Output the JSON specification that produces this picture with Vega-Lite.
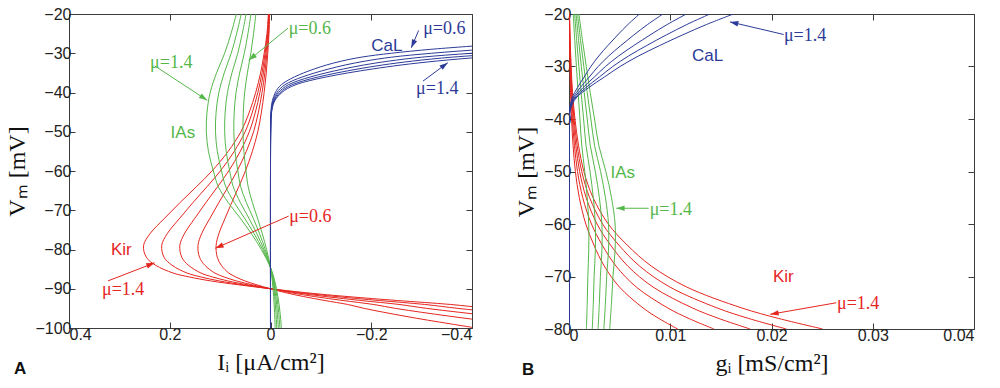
{
"$schema": "https://vega.github.io/schema/vega-lite/v6.json",
"background": "white",
"padding": {"left": 5, "top": 5, "right": 5, "bottom": 0},
"config": {
  "view": {"stroke": "#3c3c3c", "strokeWidth": 1},
  "axis": {"grid": false, "domain": false, "tickColor": "#3c3c3c", "tickSize": -6, "labelFont": "Liberation Sans", "labelFontSize": 16, "labelColor": "#222222", "titleFont": "Liberation Serif", "titleFontSize": 24, "titleFontWeight": "normal", "titleColor": "#111111", "labelPadding": 4},
  "axisX": {"titlePadding": 8},
  "axisY": {"titlePadding": 5},
  "concat": {"spacing": 41}
},
"datasets": {
"curves": [
{"p":"A","c":"Kir","m":0.6,"v":-20,"x":0.0018},{"p":"A","c":"Kir","m":0.6,"v":-25,"x":0.003},{"p":"A","c":"Kir","m":0.6,"v":-30,"x":0.0054},{"p":"A","c":"Kir","m":0.6,"v":-35,"x":0.0084},{"p":"A","c":"Kir","m":0.6,"v":-40,"x":0.0126},{"p":"A","c":"Kir","m":0.6,"v":-45,"x":0.018},{"p":"A","c":"Kir","m":0.6,"v":-50,"x":0.0252},{"p":"A","c":"Kir","m":0.6,"v":-55,"x":0.036},{"p":"A","c":"Kir","m":0.6,"v":-60,"x":0.0498},{"p":"A","c":"Kir","m":0.6,"v":-64,"x":0.063},{"p":"A","c":"Kir","m":0.6,"v":-68,"x":0.0768},{"p":"A","c":"Kir","m":0.6,"v":-72,"x":0.09},{"p":"A","c":"Kir","m":0.6,"v":-76,"x":0.1026},{"p":"A","c":"Kir","m":0.6,"v":-79,"x":0.108},{"p":"A","c":"Kir","m":0.6,"v":-82,"x":0.1056},{"p":"A","c":"Kir","m":0.6,"v":-84,"x":0.0978},{"p":"A","c":"Kir","m":0.6,"v":-86,"x":0.0828},{"p":"A","c":"Kir","m":0.6,"v":-87,"x":0.069},{"p":"A","c":"Kir","m":0.6,"v":-88,"x":0.051},{"p":"A","c":"Kir","m":0.6,"v":-89,"x":0.027},{"p":"A","c":"Kir","m":0.6,"v":-90,"x":0},{"p":"A","c":"Kir","m":0.6,"v":-91,"x":-0.03},{"p":"A","c":"Kir","m":0.6,"v":-92,"x":-0.066},{"p":"A","c":"Kir","m":0.6,"v":-93,"x":-0.108},{"p":"A","c":"Kir","m":0.6,"v":-94,"x":-0.153},{"p":"A","c":"Kir","m":0.6,"v":-95,"x":-0.186},{"p":"A","c":"Kir","m":0.6,"v":-96,"x":-0.225},{"p":"A","c":"Kir","m":0.6,"v":-97,"x":-0.267},{"p":"A","c":"Kir","m":0.6,"v":-98,"x":-0.312},{"p":"A","c":"Kir","m":0.6,"v":-99,"x":-0.36},{"p":"A","c":"Kir","m":0.6,"v":-100,"x":-0.408},
{"p":"A","c":"Kir","m":0.8,"v":-20,"x":0.0024},{"p":"A","c":"Kir","m":0.8,"v":-25,"x":0.004},{"p":"A","c":"Kir","m":0.8,"v":-30,"x":0.0072},{"p":"A","c":"Kir","m":0.8,"v":-35,"x":0.0112},{"p":"A","c":"Kir","m":0.8,"v":-40,"x":0.0168},{"p":"A","c":"Kir","m":0.8,"v":-45,"x":0.024},{"p":"A","c":"Kir","m":0.8,"v":-50,"x":0.0336},{"p":"A","c":"Kir","m":0.8,"v":-55,"x":0.048},{"p":"A","c":"Kir","m":0.8,"v":-60,"x":0.0664},{"p":"A","c":"Kir","m":0.8,"v":-64,"x":0.084},{"p":"A","c":"Kir","m":0.8,"v":-68,"x":0.1024},{"p":"A","c":"Kir","m":0.8,"v":-72,"x":0.12},{"p":"A","c":"Kir","m":0.8,"v":-76,"x":0.1368},{"p":"A","c":"Kir","m":0.8,"v":-79,"x":0.144},{"p":"A","c":"Kir","m":0.8,"v":-82,"x":0.1408},{"p":"A","c":"Kir","m":0.8,"v":-84,"x":0.1304},{"p":"A","c":"Kir","m":0.8,"v":-86,"x":0.1104},{"p":"A","c":"Kir","m":0.8,"v":-87,"x":0.092},{"p":"A","c":"Kir","m":0.8,"v":-88,"x":0.068},{"p":"A","c":"Kir","m":0.8,"v":-89,"x":0.036},{"p":"A","c":"Kir","m":0.8,"v":-90,"x":0},{"p":"A","c":"Kir","m":0.8,"v":-91,"x":-0.04},{"p":"A","c":"Kir","m":0.8,"v":-92,"x":-0.088},{"p":"A","c":"Kir","m":0.8,"v":-93,"x":-0.144},{"p":"A","c":"Kir","m":0.8,"v":-94,"x":-0.204},{"p":"A","c":"Kir","m":0.8,"v":-95,"x":-0.248},{"p":"A","c":"Kir","m":0.8,"v":-96,"x":-0.3},{"p":"A","c":"Kir","m":0.8,"v":-97,"x":-0.356},{"p":"A","c":"Kir","m":0.8,"v":-98,"x":-0.416},{"p":"A","c":"Kir","m":0.8,"v":-99,"x":-0.48},
{"p":"A","c":"Kir","m":1.0,"v":-20,"x":0.003},{"p":"A","c":"Kir","m":1.0,"v":-25,"x":0.005},{"p":"A","c":"Kir","m":1.0,"v":-30,"x":0.009},{"p":"A","c":"Kir","m":1.0,"v":-35,"x":0.014},{"p":"A","c":"Kir","m":1.0,"v":-40,"x":0.021},{"p":"A","c":"Kir","m":1.0,"v":-45,"x":0.03},{"p":"A","c":"Kir","m":1.0,"v":-50,"x":0.042},{"p":"A","c":"Kir","m":1.0,"v":-55,"x":0.06},{"p":"A","c":"Kir","m":1.0,"v":-60,"x":0.083},{"p":"A","c":"Kir","m":1.0,"v":-64,"x":0.105},{"p":"A","c":"Kir","m":1.0,"v":-68,"x":0.128},{"p":"A","c":"Kir","m":1.0,"v":-72,"x":0.15},{"p":"A","c":"Kir","m":1.0,"v":-76,"x":0.171},{"p":"A","c":"Kir","m":1.0,"v":-79,"x":0.18},{"p":"A","c":"Kir","m":1.0,"v":-82,"x":0.176},{"p":"A","c":"Kir","m":1.0,"v":-84,"x":0.163},{"p":"A","c":"Kir","m":1.0,"v":-86,"x":0.138},{"p":"A","c":"Kir","m":1.0,"v":-87,"x":0.115},{"p":"A","c":"Kir","m":1.0,"v":-88,"x":0.085},{"p":"A","c":"Kir","m":1.0,"v":-89,"x":0.045},{"p":"A","c":"Kir","m":1.0,"v":-90,"x":0},{"p":"A","c":"Kir","m":1.0,"v":-91,"x":-0.05},{"p":"A","c":"Kir","m":1.0,"v":-92,"x":-0.11},{"p":"A","c":"Kir","m":1.0,"v":-93,"x":-0.18},{"p":"A","c":"Kir","m":1.0,"v":-94,"x":-0.255},{"p":"A","c":"Kir","m":1.0,"v":-95,"x":-0.31},{"p":"A","c":"Kir","m":1.0,"v":-96,"x":-0.375},{"p":"A","c":"Kir","m":1.0,"v":-97,"x":-0.445},{"p":"A","c":"Kir","m":1.0,"v":-98,"x":-0.52},
{"p":"A","c":"Kir","m":1.2,"v":-20,"x":0.0036},{"p":"A","c":"Kir","m":1.2,"v":-25,"x":0.006},{"p":"A","c":"Kir","m":1.2,"v":-30,"x":0.0108},{"p":"A","c":"Kir","m":1.2,"v":-35,"x":0.0168},{"p":"A","c":"Kir","m":1.2,"v":-40,"x":0.0252},{"p":"A","c":"Kir","m":1.2,"v":-45,"x":0.036},{"p":"A","c":"Kir","m":1.2,"v":-50,"x":0.0504},{"p":"A","c":"Kir","m":1.2,"v":-55,"x":0.072},{"p":"A","c":"Kir","m":1.2,"v":-60,"x":0.0996},{"p":"A","c":"Kir","m":1.2,"v":-64,"x":0.126},{"p":"A","c":"Kir","m":1.2,"v":-68,"x":0.1536},{"p":"A","c":"Kir","m":1.2,"v":-72,"x":0.18},{"p":"A","c":"Kir","m":1.2,"v":-76,"x":0.2052},{"p":"A","c":"Kir","m":1.2,"v":-79,"x":0.216},{"p":"A","c":"Kir","m":1.2,"v":-82,"x":0.2112},{"p":"A","c":"Kir","m":1.2,"v":-84,"x":0.1956},{"p":"A","c":"Kir","m":1.2,"v":-86,"x":0.1656},{"p":"A","c":"Kir","m":1.2,"v":-87,"x":0.138},{"p":"A","c":"Kir","m":1.2,"v":-88,"x":0.102},{"p":"A","c":"Kir","m":1.2,"v":-89,"x":0.054},{"p":"A","c":"Kir","m":1.2,"v":-90,"x":0},{"p":"A","c":"Kir","m":1.2,"v":-91,"x":-0.06},{"p":"A","c":"Kir","m":1.2,"v":-92,"x":-0.132},{"p":"A","c":"Kir","m":1.2,"v":-93,"x":-0.216},{"p":"A","c":"Kir","m":1.2,"v":-94,"x":-0.306},{"p":"A","c":"Kir","m":1.2,"v":-95,"x":-0.372},{"p":"A","c":"Kir","m":1.2,"v":-96,"x":-0.45},{"p":"A","c":"Kir","m":1.2,"v":-97,"x":-0.534},
{"p":"A","c":"Kir","m":1.4,"v":-20,"x":0.0042},{"p":"A","c":"Kir","m":1.4,"v":-25,"x":0.007},{"p":"A","c":"Kir","m":1.4,"v":-30,"x":0.0126},{"p":"A","c":"Kir","m":1.4,"v":-35,"x":0.0196},{"p":"A","c":"Kir","m":1.4,"v":-40,"x":0.0294},{"p":"A","c":"Kir","m":1.4,"v":-45,"x":0.042},{"p":"A","c":"Kir","m":1.4,"v":-50,"x":0.0588},{"p":"A","c":"Kir","m":1.4,"v":-55,"x":0.084},{"p":"A","c":"Kir","m":1.4,"v":-60,"x":0.1162},{"p":"A","c":"Kir","m":1.4,"v":-64,"x":0.147},{"p":"A","c":"Kir","m":1.4,"v":-68,"x":0.1792},{"p":"A","c":"Kir","m":1.4,"v":-72,"x":0.21},{"p":"A","c":"Kir","m":1.4,"v":-76,"x":0.2394},{"p":"A","c":"Kir","m":1.4,"v":-79,"x":0.252},{"p":"A","c":"Kir","m":1.4,"v":-82,"x":0.2464},{"p":"A","c":"Kir","m":1.4,"v":-84,"x":0.2282},{"p":"A","c":"Kir","m":1.4,"v":-86,"x":0.1932},{"p":"A","c":"Kir","m":1.4,"v":-87,"x":0.161},{"p":"A","c":"Kir","m":1.4,"v":-88,"x":0.119},{"p":"A","c":"Kir","m":1.4,"v":-89,"x":0.063},{"p":"A","c":"Kir","m":1.4,"v":-90,"x":0},{"p":"A","c":"Kir","m":1.4,"v":-91,"x":-0.07},{"p":"A","c":"Kir","m":1.4,"v":-92,"x":-0.154},{"p":"A","c":"Kir","m":1.4,"v":-93,"x":-0.252},{"p":"A","c":"Kir","m":1.4,"v":-94,"x":-0.357},{"p":"A","c":"Kir","m":1.4,"v":-95,"x":-0.434},{"p":"A","c":"Kir","m":1.4,"v":-96,"x":-0.525},
{"p":"A","c":"IAs","m":0.6,"v":-20,"x":0.029},{"p":"A","c":"IAs","m":0.6,"v":-25,"x":0.0336},{"p":"A","c":"IAs","m":0.6,"v":-30,"x":0.039},{"p":"A","c":"IAs","m":0.6,"v":-35,"x":0.0459},{"p":"A","c":"IAs","m":0.6,"v":-40,"x":0.0513},{"p":"A","c":"IAs","m":0.6,"v":-45,"x":0.054},{"p":"A","c":"IAs","m":0.6,"v":-50,"x":0.0546},{"p":"A","c":"IAs","m":0.6,"v":-55,"x":0.0528},{"p":"A","c":"IAs","m":0.6,"v":-60,"x":0.0486},{"p":"A","c":"IAs","m":0.6,"v":-64,"x":0.0444},{"p":"A","c":"IAs","m":0.6,"v":-68,"x":0.036},{"p":"A","c":"IAs","m":0.6,"v":-72,"x":0.0258},{"p":"A","c":"IAs","m":0.6,"v":-76,"x":0.0162},{"p":"A","c":"IAs","m":0.6,"v":-80,"x":0.0078},{"p":"A","c":"IAs","m":0.6,"v":-84.6,"x":0},{"p":"A","c":"IAs","m":0.6,"v":-88,"x":-0.0036},{"p":"A","c":"IAs","m":0.6,"v":-92,"x":-0.0063},{"p":"A","c":"IAs","m":0.6,"v":-96,"x":-0.0081},{"p":"A","c":"IAs","m":0.6,"v":-100,"x":-0.0093},
{"p":"A","c":"IAs","m":0.8,"v":-20,"x":0.0387},{"p":"A","c":"IAs","m":0.8,"v":-25,"x":0.0448},{"p":"A","c":"IAs","m":0.8,"v":-30,"x":0.052},{"p":"A","c":"IAs","m":0.8,"v":-35,"x":0.0612},{"p":"A","c":"IAs","m":0.8,"v":-40,"x":0.0684},{"p":"A","c":"IAs","m":0.8,"v":-45,"x":0.072},{"p":"A","c":"IAs","m":0.8,"v":-50,"x":0.0728},{"p":"A","c":"IAs","m":0.8,"v":-55,"x":0.0704},{"p":"A","c":"IAs","m":0.8,"v":-60,"x":0.0648},{"p":"A","c":"IAs","m":0.8,"v":-64,"x":0.0592},{"p":"A","c":"IAs","m":0.8,"v":-68,"x":0.048},{"p":"A","c":"IAs","m":0.8,"v":-72,"x":0.0344},{"p":"A","c":"IAs","m":0.8,"v":-76,"x":0.0216},{"p":"A","c":"IAs","m":0.8,"v":-80,"x":0.0104},{"p":"A","c":"IAs","m":0.8,"v":-84.6,"x":0},{"p":"A","c":"IAs","m":0.8,"v":-88,"x":-0.0048},{"p":"A","c":"IAs","m":0.8,"v":-92,"x":-0.0084},{"p":"A","c":"IAs","m":0.8,"v":-96,"x":-0.0108},{"p":"A","c":"IAs","m":0.8,"v":-100,"x":-0.0124},
{"p":"A","c":"IAs","m":1.0,"v":-20,"x":0.0484},{"p":"A","c":"IAs","m":1.0,"v":-25,"x":0.056},{"p":"A","c":"IAs","m":1.0,"v":-30,"x":0.065},{"p":"A","c":"IAs","m":1.0,"v":-35,"x":0.0765},{"p":"A","c":"IAs","m":1.0,"v":-40,"x":0.0855},{"p":"A","c":"IAs","m":1.0,"v":-45,"x":0.09},{"p":"A","c":"IAs","m":1.0,"v":-50,"x":0.091},{"p":"A","c":"IAs","m":1.0,"v":-55,"x":0.088},{"p":"A","c":"IAs","m":1.0,"v":-60,"x":0.081},{"p":"A","c":"IAs","m":1.0,"v":-64,"x":0.074},{"p":"A","c":"IAs","m":1.0,"v":-68,"x":0.06},{"p":"A","c":"IAs","m":1.0,"v":-72,"x":0.043},{"p":"A","c":"IAs","m":1.0,"v":-76,"x":0.027},{"p":"A","c":"IAs","m":1.0,"v":-80,"x":0.013},{"p":"A","c":"IAs","m":1.0,"v":-84.6,"x":0},{"p":"A","c":"IAs","m":1.0,"v":-88,"x":-0.006},{"p":"A","c":"IAs","m":1.0,"v":-92,"x":-0.0105},{"p":"A","c":"IAs","m":1.0,"v":-96,"x":-0.0135},{"p":"A","c":"IAs","m":1.0,"v":-100,"x":-0.0155},
{"p":"A","c":"IAs","m":1.2,"v":-20,"x":0.0581},{"p":"A","c":"IAs","m":1.2,"v":-25,"x":0.0672},{"p":"A","c":"IAs","m":1.2,"v":-30,"x":0.078},{"p":"A","c":"IAs","m":1.2,"v":-35,"x":0.0918},{"p":"A","c":"IAs","m":1.2,"v":-40,"x":0.1026},{"p":"A","c":"IAs","m":1.2,"v":-45,"x":0.108},{"p":"A","c":"IAs","m":1.2,"v":-50,"x":0.1092},{"p":"A","c":"IAs","m":1.2,"v":-55,"x":0.1056},{"p":"A","c":"IAs","m":1.2,"v":-60,"x":0.0972},{"p":"A","c":"IAs","m":1.2,"v":-64,"x":0.0888},{"p":"A","c":"IAs","m":1.2,"v":-68,"x":0.072},{"p":"A","c":"IAs","m":1.2,"v":-72,"x":0.0516},{"p":"A","c":"IAs","m":1.2,"v":-76,"x":0.0324},{"p":"A","c":"IAs","m":1.2,"v":-80,"x":0.0156},{"p":"A","c":"IAs","m":1.2,"v":-84.6,"x":0},{"p":"A","c":"IAs","m":1.2,"v":-88,"x":-0.0072},{"p":"A","c":"IAs","m":1.2,"v":-92,"x":-0.0126},{"p":"A","c":"IAs","m":1.2,"v":-96,"x":-0.0162},{"p":"A","c":"IAs","m":1.2,"v":-100,"x":-0.0186},
{"p":"A","c":"IAs","m":1.4,"v":-20,"x":0.0678},{"p":"A","c":"IAs","m":1.4,"v":-25,"x":0.0784},{"p":"A","c":"IAs","m":1.4,"v":-30,"x":0.091},{"p":"A","c":"IAs","m":1.4,"v":-35,"x":0.1071},{"p":"A","c":"IAs","m":1.4,"v":-40,"x":0.1197},{"p":"A","c":"IAs","m":1.4,"v":-45,"x":0.126},{"p":"A","c":"IAs","m":1.4,"v":-50,"x":0.1274},{"p":"A","c":"IAs","m":1.4,"v":-55,"x":0.1232},{"p":"A","c":"IAs","m":1.4,"v":-60,"x":0.1134},{"p":"A","c":"IAs","m":1.4,"v":-64,"x":0.1036},{"p":"A","c":"IAs","m":1.4,"v":-68,"x":0.084},{"p":"A","c":"IAs","m":1.4,"v":-72,"x":0.0602},{"p":"A","c":"IAs","m":1.4,"v":-76,"x":0.0378},{"p":"A","c":"IAs","m":1.4,"v":-80,"x":0.0182},{"p":"A","c":"IAs","m":1.4,"v":-84.6,"x":0},{"p":"A","c":"IAs","m":1.4,"v":-88,"x":-0.0084},{"p":"A","c":"IAs","m":1.4,"v":-92,"x":-0.0147},{"p":"A","c":"IAs","m":1.4,"v":-96,"x":-0.0189},{"p":"A","c":"IAs","m":1.4,"v":-100,"x":-0.0217},
{"p":"A","c":"CaL","m":0.6,"v":-28,"x":-0.42},{"p":"A","c":"CaL","m":0.6,"v":-29,"x":-0.318},{"p":"A","c":"CaL","m":0.6,"v":-30,"x":-0.24},{"p":"A","c":"CaL","m":0.6,"v":-31,"x":-0.18},{"p":"A","c":"CaL","m":0.6,"v":-32,"x":-0.141},{"p":"A","c":"CaL","m":0.6,"v":-33,"x":-0.111},{"p":"A","c":"CaL","m":0.6,"v":-34,"x":-0.087},{"p":"A","c":"CaL","m":0.6,"v":-35,"x":-0.066},{"p":"A","c":"CaL","m":0.6,"v":-36,"x":-0.048},{"p":"A","c":"CaL","m":0.6,"v":-37,"x":-0.033},{"p":"A","c":"CaL","m":0.6,"v":-38,"x":-0.0216},{"p":"A","c":"CaL","m":0.6,"v":-39,"x":-0.0144},{"p":"A","c":"CaL","m":0.6,"v":-40,"x":-0.0096},{"p":"A","c":"CaL","m":0.6,"v":-41,"x":-0.0063},{"p":"A","c":"CaL","m":0.6,"v":-42,"x":-0.0039},{"p":"A","c":"CaL","m":0.6,"v":-43,"x":-0.0024},{"p":"A","c":"CaL","m":0.6,"v":-44,"x":-0.0015},{"p":"A","c":"CaL","m":0.6,"v":-46,"x":-0.0006},{"p":"A","c":"CaL","m":0.6,"v":-50,"x":-0.0002},{"p":"A","c":"CaL","m":0.6,"v":-60,"x":0},{"p":"A","c":"CaL","m":0.6,"v":-100,"x":0},
{"p":"A","c":"CaL","m":0.8,"v":-28,"x":-0.56},{"p":"A","c":"CaL","m":0.8,"v":-29,"x":-0.424},{"p":"A","c":"CaL","m":0.8,"v":-30,"x":-0.32},{"p":"A","c":"CaL","m":0.8,"v":-31,"x":-0.24},{"p":"A","c":"CaL","m":0.8,"v":-32,"x":-0.188},{"p":"A","c":"CaL","m":0.8,"v":-33,"x":-0.148},{"p":"A","c":"CaL","m":0.8,"v":-34,"x":-0.116},{"p":"A","c":"CaL","m":0.8,"v":-35,"x":-0.088},{"p":"A","c":"CaL","m":0.8,"v":-36,"x":-0.064},{"p":"A","c":"CaL","m":0.8,"v":-37,"x":-0.044},{"p":"A","c":"CaL","m":0.8,"v":-38,"x":-0.0288},{"p":"A","c":"CaL","m":0.8,"v":-39,"x":-0.0192},{"p":"A","c":"CaL","m":0.8,"v":-40,"x":-0.0128},{"p":"A","c":"CaL","m":0.8,"v":-41,"x":-0.0084},{"p":"A","c":"CaL","m":0.8,"v":-42,"x":-0.0052},{"p":"A","c":"CaL","m":0.8,"v":-43,"x":-0.0032},{"p":"A","c":"CaL","m":0.8,"v":-44,"x":-0.002},{"p":"A","c":"CaL","m":0.8,"v":-46,"x":-0.0008},{"p":"A","c":"CaL","m":0.8,"v":-50,"x":-0.0002},{"p":"A","c":"CaL","m":0.8,"v":-60,"x":0},{"p":"A","c":"CaL","m":0.8,"v":-100,"x":0},
{"p":"A","c":"CaL","m":1.0,"v":-29,"x":-0.53},{"p":"A","c":"CaL","m":1.0,"v":-30,"x":-0.4},{"p":"A","c":"CaL","m":1.0,"v":-31,"x":-0.3},{"p":"A","c":"CaL","m":1.0,"v":-32,"x":-0.235},{"p":"A","c":"CaL","m":1.0,"v":-33,"x":-0.185},{"p":"A","c":"CaL","m":1.0,"v":-34,"x":-0.145},{"p":"A","c":"CaL","m":1.0,"v":-35,"x":-0.11},{"p":"A","c":"CaL","m":1.0,"v":-36,"x":-0.08},{"p":"A","c":"CaL","m":1.0,"v":-37,"x":-0.055},{"p":"A","c":"CaL","m":1.0,"v":-38,"x":-0.036},{"p":"A","c":"CaL","m":1.0,"v":-39,"x":-0.024},{"p":"A","c":"CaL","m":1.0,"v":-40,"x":-0.016},{"p":"A","c":"CaL","m":1.0,"v":-41,"x":-0.0105},{"p":"A","c":"CaL","m":1.0,"v":-42,"x":-0.0065},{"p":"A","c":"CaL","m":1.0,"v":-43,"x":-0.004},{"p":"A","c":"CaL","m":1.0,"v":-44,"x":-0.0025},{"p":"A","c":"CaL","m":1.0,"v":-46,"x":-0.001},{"p":"A","c":"CaL","m":1.0,"v":-50,"x":-0.0003},{"p":"A","c":"CaL","m":1.0,"v":-60,"x":0},{"p":"A","c":"CaL","m":1.0,"v":-100,"x":0},
{"p":"A","c":"CaL","m":1.2,"v":-29,"x":-0.636},{"p":"A","c":"CaL","m":1.2,"v":-30,"x":-0.48},{"p":"A","c":"CaL","m":1.2,"v":-31,"x":-0.36},{"p":"A","c":"CaL","m":1.2,"v":-32,"x":-0.282},{"p":"A","c":"CaL","m":1.2,"v":-33,"x":-0.222},{"p":"A","c":"CaL","m":1.2,"v":-34,"x":-0.174},{"p":"A","c":"CaL","m":1.2,"v":-35,"x":-0.132},{"p":"A","c":"CaL","m":1.2,"v":-36,"x":-0.096},{"p":"A","c":"CaL","m":1.2,"v":-37,"x":-0.066},{"p":"A","c":"CaL","m":1.2,"v":-38,"x":-0.0432},{"p":"A","c":"CaL","m":1.2,"v":-39,"x":-0.0288},{"p":"A","c":"CaL","m":1.2,"v":-40,"x":-0.0192},{"p":"A","c":"CaL","m":1.2,"v":-41,"x":-0.0126},{"p":"A","c":"CaL","m":1.2,"v":-42,"x":-0.0078},{"p":"A","c":"CaL","m":1.2,"v":-43,"x":-0.0048},{"p":"A","c":"CaL","m":1.2,"v":-44,"x":-0.003},{"p":"A","c":"CaL","m":1.2,"v":-46,"x":-0.0012},{"p":"A","c":"CaL","m":1.2,"v":-50,"x":-0.0004},{"p":"A","c":"CaL","m":1.2,"v":-60,"x":0},{"p":"A","c":"CaL","m":1.2,"v":-100,"x":0},
{"p":"A","c":"CaL","m":1.4,"v":-30,"x":-0.56},{"p":"A","c":"CaL","m":1.4,"v":-31,"x":-0.42},{"p":"A","c":"CaL","m":1.4,"v":-32,"x":-0.329},{"p":"A","c":"CaL","m":1.4,"v":-33,"x":-0.259},{"p":"A","c":"CaL","m":1.4,"v":-34,"x":-0.203},{"p":"A","c":"CaL","m":1.4,"v":-35,"x":-0.154},{"p":"A","c":"CaL","m":1.4,"v":-36,"x":-0.112},{"p":"A","c":"CaL","m":1.4,"v":-37,"x":-0.077},{"p":"A","c":"CaL","m":1.4,"v":-38,"x":-0.0504},{"p":"A","c":"CaL","m":1.4,"v":-39,"x":-0.0336},{"p":"A","c":"CaL","m":1.4,"v":-40,"x":-0.0224},{"p":"A","c":"CaL","m":1.4,"v":-41,"x":-0.0147},{"p":"A","c":"CaL","m":1.4,"v":-42,"x":-0.0091},{"p":"A","c":"CaL","m":1.4,"v":-43,"x":-0.0056},{"p":"A","c":"CaL","m":1.4,"v":-44,"x":-0.0035},{"p":"A","c":"CaL","m":1.4,"v":-46,"x":-0.0014},{"p":"A","c":"CaL","m":1.4,"v":-50,"x":-0.0004},{"p":"A","c":"CaL","m":1.4,"v":-60,"x":0},{"p":"A","c":"CaL","m":1.4,"v":-100,"x":0},
{"p":"B","c":"Kir","m":0.6,"v":-20,"x":0.000024},{"p":"B","c":"Kir","m":0.6,"v":-25,"x":0.000048},{"p":"B","c":"Kir","m":0.6,"v":-30,"x":0.00009},{"p":"B","c":"Kir","m":0.6,"v":-35,"x":0.00015},{"p":"B","c":"Kir","m":0.6,"v":-40,"x":0.000252},{"p":"B","c":"Kir","m":0.6,"v":-45,"x":0.000402},{"p":"B","c":"Kir","m":0.6,"v":-50,"x":0.00063},{"p":"B","c":"Kir","m":0.6,"v":-55,"x":0.00102},{"p":"B","c":"Kir","m":0.6,"v":-60,"x":0.00166},{"p":"B","c":"Kir","m":0.6,"v":-64,"x":0.00246},{"p":"B","c":"Kir","m":0.6,"v":-68,"x":0.00348},{"p":"B","c":"Kir","m":0.6,"v":-72,"x":0.00498},{"p":"B","c":"Kir","m":0.6,"v":-76,"x":0.00732},{"p":"B","c":"Kir","m":0.6,"v":-78,"x":0.00888},{"p":"B","c":"Kir","m":0.6,"v":-80,"x":0.01074},
{"p":"B","c":"Kir","m":0.8,"v":-20,"x":0.000032},{"p":"B","c":"Kir","m":0.8,"v":-25,"x":0.000064},{"p":"B","c":"Kir","m":0.8,"v":-30,"x":0.00012},{"p":"B","c":"Kir","m":0.8,"v":-35,"x":0.0002},{"p":"B","c":"Kir","m":0.8,"v":-40,"x":0.000336},{"p":"B","c":"Kir","m":0.8,"v":-45,"x":0.000536},{"p":"B","c":"Kir","m":0.8,"v":-50,"x":0.00084},{"p":"B","c":"Kir","m":0.8,"v":-55,"x":0.00136},{"p":"B","c":"Kir","m":0.8,"v":-60,"x":0.00222},{"p":"B","c":"Kir","m":0.8,"v":-64,"x":0.00328},{"p":"B","c":"Kir","m":0.8,"v":-68,"x":0.00464},{"p":"B","c":"Kir","m":0.8,"v":-72,"x":0.00664},{"p":"B","c":"Kir","m":0.8,"v":-76,"x":0.00976},{"p":"B","c":"Kir","m":0.8,"v":-78,"x":0.01184},{"p":"B","c":"Kir","m":0.8,"v":-80,"x":0.01432},
{"p":"B","c":"Kir","m":1.0,"v":-20,"x":0.00004},{"p":"B","c":"Kir","m":1.0,"v":-25,"x":0.00008},{"p":"B","c":"Kir","m":1.0,"v":-30,"x":0.00015},{"p":"B","c":"Kir","m":1.0,"v":-35,"x":0.00025},{"p":"B","c":"Kir","m":1.0,"v":-40,"x":0.00042},{"p":"B","c":"Kir","m":1.0,"v":-45,"x":0.00067},{"p":"B","c":"Kir","m":1.0,"v":-50,"x":0.00105},{"p":"B","c":"Kir","m":1.0,"v":-55,"x":0.0017},{"p":"B","c":"Kir","m":1.0,"v":-60,"x":0.00277},{"p":"B","c":"Kir","m":1.0,"v":-64,"x":0.0041},{"p":"B","c":"Kir","m":1.0,"v":-68,"x":0.0058},{"p":"B","c":"Kir","m":1.0,"v":-72,"x":0.0083},{"p":"B","c":"Kir","m":1.0,"v":-76,"x":0.0122},{"p":"B","c":"Kir","m":1.0,"v":-78,"x":0.0148},{"p":"B","c":"Kir","m":1.0,"v":-80,"x":0.0179},
{"p":"B","c":"Kir","m":1.2,"v":-20,"x":0.000048},{"p":"B","c":"Kir","m":1.2,"v":-25,"x":0.000096},{"p":"B","c":"Kir","m":1.2,"v":-30,"x":0.00018},{"p":"B","c":"Kir","m":1.2,"v":-35,"x":0.0003},{"p":"B","c":"Kir","m":1.2,"v":-40,"x":0.000504},{"p":"B","c":"Kir","m":1.2,"v":-45,"x":0.000804},{"p":"B","c":"Kir","m":1.2,"v":-50,"x":0.00126},{"p":"B","c":"Kir","m":1.2,"v":-55,"x":0.00204},{"p":"B","c":"Kir","m":1.2,"v":-60,"x":0.00332},{"p":"B","c":"Kir","m":1.2,"v":-64,"x":0.00492},{"p":"B","c":"Kir","m":1.2,"v":-68,"x":0.00696},{"p":"B","c":"Kir","m":1.2,"v":-72,"x":0.00996},{"p":"B","c":"Kir","m":1.2,"v":-76,"x":0.01464},{"p":"B","c":"Kir","m":1.2,"v":-78,"x":0.01776},{"p":"B","c":"Kir","m":1.2,"v":-80,"x":0.02148},
{"p":"B","c":"Kir","m":1.4,"v":-20,"x":0.000056},{"p":"B","c":"Kir","m":1.4,"v":-25,"x":0.000112},{"p":"B","c":"Kir","m":1.4,"v":-30,"x":0.00021},{"p":"B","c":"Kir","m":1.4,"v":-35,"x":0.00035},{"p":"B","c":"Kir","m":1.4,"v":-40,"x":0.000588},{"p":"B","c":"Kir","m":1.4,"v":-45,"x":0.000938},{"p":"B","c":"Kir","m":1.4,"v":-50,"x":0.00147},{"p":"B","c":"Kir","m":1.4,"v":-55,"x":0.00238},{"p":"B","c":"Kir","m":1.4,"v":-60,"x":0.00388},{"p":"B","c":"Kir","m":1.4,"v":-64,"x":0.00574},{"p":"B","c":"Kir","m":1.4,"v":-68,"x":0.00812},{"p":"B","c":"Kir","m":1.4,"v":-72,"x":0.01162},{"p":"B","c":"Kir","m":1.4,"v":-76,"x":0.01708},{"p":"B","c":"Kir","m":1.4,"v":-78,"x":0.02072},{"p":"B","c":"Kir","m":1.4,"v":-80,"x":0.02506},
{"p":"B","c":"IAs","m":0.6,"v":-20,"x":0.00042},{"p":"B","c":"IAs","m":0.6,"v":-25,"x":0.00057},{"p":"B","c":"IAs","m":0.6,"v":-30,"x":0.000732},{"p":"B","c":"IAs","m":0.6,"v":-35,"x":0.0009},{"p":"B","c":"IAs","m":0.6,"v":-40,"x":0.00108},{"p":"B","c":"IAs","m":0.6,"v":-45,"x":0.00126},{"p":"B","c":"IAs","m":0.6,"v":-50,"x":0.00156},{"p":"B","c":"IAs","m":0.6,"v":-55,"x":0.0018},{"p":"B","c":"IAs","m":0.6,"v":-60,"x":0.00195},{"p":"B","c":"IAs","m":0.6,"v":-65,"x":0.00195},{"p":"B","c":"IAs","m":0.6,"v":-70,"x":0.00186},{"p":"B","c":"IAs","m":0.6,"v":-75,"x":0.0018},{"p":"B","c":"IAs","m":0.6,"v":-80,"x":0.00172},
{"p":"B","c":"IAs","m":0.8,"v":-20,"x":0.00056},{"p":"B","c":"IAs","m":0.8,"v":-25,"x":0.00076},{"p":"B","c":"IAs","m":0.8,"v":-30,"x":0.000976},{"p":"B","c":"IAs","m":0.8,"v":-35,"x":0.0012},{"p":"B","c":"IAs","m":0.8,"v":-40,"x":0.00144},{"p":"B","c":"IAs","m":0.8,"v":-45,"x":0.00168},{"p":"B","c":"IAs","m":0.8,"v":-50,"x":0.00208},{"p":"B","c":"IAs","m":0.8,"v":-55,"x":0.0024},{"p":"B","c":"IAs","m":0.8,"v":-60,"x":0.0026},{"p":"B","c":"IAs","m":0.8,"v":-65,"x":0.0026},{"p":"B","c":"IAs","m":0.8,"v":-70,"x":0.00248},{"p":"B","c":"IAs","m":0.8,"v":-75,"x":0.0024},{"p":"B","c":"IAs","m":0.8,"v":-80,"x":0.0023},
{"p":"B","c":"IAs","m":1.0,"v":-20,"x":0.0007},{"p":"B","c":"IAs","m":1.0,"v":-25,"x":0.00095},{"p":"B","c":"IAs","m":1.0,"v":-30,"x":0.00122},{"p":"B","c":"IAs","m":1.0,"v":-35,"x":0.0015},{"p":"B","c":"IAs","m":1.0,"v":-40,"x":0.0018},{"p":"B","c":"IAs","m":1.0,"v":-45,"x":0.0021},{"p":"B","c":"IAs","m":1.0,"v":-50,"x":0.0026},{"p":"B","c":"IAs","m":1.0,"v":-55,"x":0.003},{"p":"B","c":"IAs","m":1.0,"v":-60,"x":0.00325},{"p":"B","c":"IAs","m":1.0,"v":-65,"x":0.00325},{"p":"B","c":"IAs","m":1.0,"v":-70,"x":0.0031},{"p":"B","c":"IAs","m":1.0,"v":-75,"x":0.003},{"p":"B","c":"IAs","m":1.0,"v":-80,"x":0.00287},
{"p":"B","c":"IAs","m":1.2,"v":-20,"x":0.00084},{"p":"B","c":"IAs","m":1.2,"v":-25,"x":0.00114},{"p":"B","c":"IAs","m":1.2,"v":-30,"x":0.001464},{"p":"B","c":"IAs","m":1.2,"v":-35,"x":0.0018},{"p":"B","c":"IAs","m":1.2,"v":-40,"x":0.00216},{"p":"B","c":"IAs","m":1.2,"v":-45,"x":0.00252},{"p":"B","c":"IAs","m":1.2,"v":-50,"x":0.00312},{"p":"B","c":"IAs","m":1.2,"v":-55,"x":0.0036},{"p":"B","c":"IAs","m":1.2,"v":-60,"x":0.0039},{"p":"B","c":"IAs","m":1.2,"v":-65,"x":0.0039},{"p":"B","c":"IAs","m":1.2,"v":-70,"x":0.00372},{"p":"B","c":"IAs","m":1.2,"v":-75,"x":0.0036},{"p":"B","c":"IAs","m":1.2,"v":-80,"x":0.00344},
{"p":"B","c":"IAs","m":1.4,"v":-20,"x":0.00098},{"p":"B","c":"IAs","m":1.4,"v":-25,"x":0.00133},{"p":"B","c":"IAs","m":1.4,"v":-30,"x":0.001708},{"p":"B","c":"IAs","m":1.4,"v":-35,"x":0.0021},{"p":"B","c":"IAs","m":1.4,"v":-40,"x":0.00252},{"p":"B","c":"IAs","m":1.4,"v":-45,"x":0.00294},{"p":"B","c":"IAs","m":1.4,"v":-50,"x":0.00364},{"p":"B","c":"IAs","m":1.4,"v":-55,"x":0.0042},{"p":"B","c":"IAs","m":1.4,"v":-60,"x":0.00455},{"p":"B","c":"IAs","m":1.4,"v":-65,"x":0.00455},{"p":"B","c":"IAs","m":1.4,"v":-70,"x":0.00434},{"p":"B","c":"IAs","m":1.4,"v":-75,"x":0.0042},{"p":"B","c":"IAs","m":1.4,"v":-80,"x":0.00402},
{"p":"B","c":"CaL","m":0.6,"v":-20,"x":0.00696},{"p":"B","c":"CaL","m":0.6,"v":-22,"x":0.00582},{"p":"B","c":"CaL","m":0.6,"v":-24,"x":0.0048},{"p":"B","c":"CaL","m":0.6,"v":-26,"x":0.00384},{"p":"B","c":"CaL","m":0.6,"v":-28,"x":0.00294},{"p":"B","c":"CaL","m":0.6,"v":-30,"x":0.00216},{"p":"B","c":"CaL","m":0.6,"v":-32,"x":0.0015},{"p":"B","c":"CaL","m":0.6,"v":-34,"x":0.00084},{"p":"B","c":"CaL","m":0.6,"v":-36,"x":0.0003},{"p":"B","c":"CaL","m":0.6,"v":-38,"x":0.000072},{"p":"B","c":"CaL","m":0.6,"v":-40,"x":0.00002},{"p":"B","c":"CaL","m":0.6,"v":-45,"x":0},{"p":"B","c":"CaL","m":0.6,"v":-80,"x":0},
{"p":"B","c":"CaL","m":0.8,"v":-20,"x":0.00928},{"p":"B","c":"CaL","m":0.8,"v":-22,"x":0.00776},{"p":"B","c":"CaL","m":0.8,"v":-24,"x":0.0064},{"p":"B","c":"CaL","m":0.8,"v":-26,"x":0.00512},{"p":"B","c":"CaL","m":0.8,"v":-28,"x":0.00392},{"p":"B","c":"CaL","m":0.8,"v":-30,"x":0.00288},{"p":"B","c":"CaL","m":0.8,"v":-32,"x":0.002},{"p":"B","c":"CaL","m":0.8,"v":-34,"x":0.00112},{"p":"B","c":"CaL","m":0.8,"v":-36,"x":0.0004},{"p":"B","c":"CaL","m":0.8,"v":-38,"x":0.000096},{"p":"B","c":"CaL","m":0.8,"v":-40,"x":0.00002},{"p":"B","c":"CaL","m":0.8,"v":-45,"x":0},{"p":"B","c":"CaL","m":0.8,"v":-80,"x":0},
{"p":"B","c":"CaL","m":1.0,"v":-20,"x":0.0116},{"p":"B","c":"CaL","m":1.0,"v":-22,"x":0.0097},{"p":"B","c":"CaL","m":1.0,"v":-24,"x":0.008},{"p":"B","c":"CaL","m":1.0,"v":-26,"x":0.0064},{"p":"B","c":"CaL","m":1.0,"v":-28,"x":0.0049},{"p":"B","c":"CaL","m":1.0,"v":-30,"x":0.0036},{"p":"B","c":"CaL","m":1.0,"v":-32,"x":0.0025},{"p":"B","c":"CaL","m":1.0,"v":-34,"x":0.0014},{"p":"B","c":"CaL","m":1.0,"v":-36,"x":0.0005},{"p":"B","c":"CaL","m":1.0,"v":-38,"x":0.00012},{"p":"B","c":"CaL","m":1.0,"v":-40,"x":0.00003},{"p":"B","c":"CaL","m":1.0,"v":-45,"x":0},{"p":"B","c":"CaL","m":1.0,"v":-80,"x":0},
{"p":"B","c":"CaL","m":1.2,"v":-20,"x":0.01392},{"p":"B","c":"CaL","m":1.2,"v":-22,"x":0.01164},{"p":"B","c":"CaL","m":1.2,"v":-24,"x":0.0096},{"p":"B","c":"CaL","m":1.2,"v":-26,"x":0.00768},{"p":"B","c":"CaL","m":1.2,"v":-28,"x":0.00588},{"p":"B","c":"CaL","m":1.2,"v":-30,"x":0.00432},{"p":"B","c":"CaL","m":1.2,"v":-32,"x":0.003},{"p":"B","c":"CaL","m":1.2,"v":-34,"x":0.00168},{"p":"B","c":"CaL","m":1.2,"v":-36,"x":0.0006},{"p":"B","c":"CaL","m":1.2,"v":-38,"x":0.000144},{"p":"B","c":"CaL","m":1.2,"v":-40,"x":0.00004},{"p":"B","c":"CaL","m":1.2,"v":-45,"x":0},{"p":"B","c":"CaL","m":1.2,"v":-80,"x":0},
{"p":"B","c":"CaL","m":1.4,"v":-20,"x":0.01624},{"p":"B","c":"CaL","m":1.4,"v":-22,"x":0.01358},{"p":"B","c":"CaL","m":1.4,"v":-24,"x":0.0112},{"p":"B","c":"CaL","m":1.4,"v":-26,"x":0.00896},{"p":"B","c":"CaL","m":1.4,"v":-28,"x":0.00686},{"p":"B","c":"CaL","m":1.4,"v":-30,"x":0.00504},{"p":"B","c":"CaL","m":1.4,"v":-32,"x":0.0035},{"p":"B","c":"CaL","m":1.4,"v":-34,"x":0.00196},{"p":"B","c":"CaL","m":1.4,"v":-36,"x":0.0007},{"p":"B","c":"CaL","m":1.4,"v":-38,"x":0.000168},{"p":"B","c":"CaL","m":1.4,"v":-40,"x":0.00004},{"p":"B","c":"CaL","m":1.4,"v":-45,"x":0},{"p":"B","c":"CaL","m":1.4,"v":-80,"x":0}
],
"labels": [
{"p":"A","k":"mu","c":"IAs","t":"μ=0.6","x":-0.036,"y":-23.9},
{"p":"A","k":"mu","c":"IAs","t":"μ=1.4","x":0.239,"y":-32.4},
{"p":"A","k":"mu","c":"CaL","t":"μ=0.6","x":-0.303,"y":-23.9},
{"p":"A","k":"mu","c":"CaL","t":"μ=1.4","x":-0.289,"y":-39.2},
{"p":"A","k":"mu","c":"Kir","t":"μ=0.6","x":-0.037,"y":-71.7},
{"p":"A","k":"mu","c":"Kir","t":"μ=1.4","x":0.3345,"y":-90.2},
{"p":"A","k":"name","c":"CaL","t":"CaL","x":-0.231,"y":-28.2},
{"p":"A","k":"name","c":"IAs","t":"IAs","x":0.174,"y":-50.2},
{"p":"A","k":"name","c":"Kir","t":"Kir","x":0.296,"y":-80.2},
{"p":"B","k":"mu","c":"CaL","t":"μ=1.4","x":0.02123,"y":-24.1},
{"p":"B","k":"mu","c":"IAs","t":"μ=1.4","x":0.00797,"y":-57.4},
{"p":"B","k":"mu","c":"Kir","t":"μ=1.4","x":0.02647,"y":-75.3},
{"p":"B","k":"name","c":"CaL","t":"CaL","x":0.01368,"y":-28.0},
{"p":"B","k":"name","c":"IAs","t":"IAs","x":0.00531,"y":-50.2},
{"p":"B","k":"name","c":"Kir","t":"Kir","x":0.02117,"y":-70.1}
],
"arrows": [
{"p":"A","c":"IAs","x":-0.0347,"y":-23.6,"x2":0.0433,"y2":-31.8,"a":230.6},
{"p":"A","c":"IAs","x":0.23,"y":-33.2,"x2":0.1255,"y2":-42.0,"a":123.1},
{"p":"A","c":"CaL","x":-0.294,"y":-24.2,"x2":-0.2795,"y2":-28.6,"a":203},
{"p":"A","c":"CaL","x":-0.3027,"y":-37.1,"x2":-0.352,"y2":-32.4,"a":53.8},
{"p":"A","c":"Kir","x":-0.036,"y":-71.5,"x2":0.1096,"y2":-79.7,"a":246.3},
{"p":"A","c":"Kir","x":0.3226,"y":-88.0,"x2":0.23,"y2":-83.4,"a":68.6},
{"p":"B","c":"CaL","x":0.0212,"y":-23.9,"x2":0.0159,"y2":-21.5,"a":283.3},
{"p":"B","c":"IAs","x":0.00787,"y":-57.0,"x2":0.00467,"y2":-57.0,"a":270},
{"p":"B","c":"Kir","x":0.0264,"y":-75.0,"x2":0.01988,"y2":-77.2,"a":260}
]
},
"hconcat": [
{
 "width": 403, "height": 314,
 "title": {"text": "A", "orient": "bottom", "anchor": "start", "frame": "group", "dx": -55, "dy": -17, "fontSize": 17, "fontWeight": "bold", "font": "Liberation Sans", "color": "#111111"},
 "resolve": {"axis": {"x": "independent", "y": "independent"}},
 "layer": [
  {"data": {"name": "curves"}, "transform": [{"filter": "datum.p === 'A'"}],
   "mark": {"type": "line", "clip": true, "strokeWidth": 1, "interpolate": "catmull-rom"},
   "encoding": {
    "x": {"field": "x", "type": "quantitative", "scale": {"domain": [-0.4, 0.4], "reverse": true, "nice": false, "zero": false}, "axis": {"values": [-0.4, -0.2, 0, 0.2, 0.4], "format": "~g", "title": "Iᵢ [μA/cm²]"}},
    "y": {"field": "v", "type": "quantitative", "scale": {"domain": [-100, -20], "nice": false, "zero": false}, "axis": {"values": [-100, -90, -80, -70, -60, -50, -40, -30, -20], "format": "d", "title": "Vₘ [mV]"}},
    "color": {"field": "c", "type": "nominal", "scale": {"domain": ["Kir", "IAs", "CaL"], "range": ["#e5261f", "#55b74a", "#2c3b98"]}, "legend": null},
    "detail": {"field": "m", "type": "nominal"},
    "order": {"field": "v", "type": "quantitative"}
   }},
  {"data": {"name": "arrows"}, "transform": [{"filter": "datum.p === 'A'"}],
   "mark": {"type": "rule", "strokeWidth": 1},
   "encoding": {
    "x": {"field": "x", "type": "quantitative", "scale": {"domain": [-0.4, 0.4], "reverse": true, "nice": false, "zero": false}, "axis": {"orient": "top", "values": [-0.4, -0.2, 0, 0.2, 0.4], "labels": false, "title": null}},
    "y": {"field": "y", "type": "quantitative", "scale": {"domain": [-100, -20], "nice": false, "zero": false}, "axis": {"orient": "right", "values": [-100, -90, -80, -70, -60, -50, -40, -30, -20], "labels": false, "title": null}},
    "x2": {"field": "x2"}, "y2": {"field": "y2"},
    "color": {"field": "c", "type": "nominal", "legend": null}
   }},
  {"data": {"name": "arrows"}, "transform": [{"filter": "datum.p === 'A'"}],
   "mark": {"type": "point", "shape": "M0,0L-0.33,1L0.33,1Z", "filled": true, "size": 280, "opacity": 1, "strokeWidth": 0},
   "encoding": {
    "x": {"field": "x2", "type": "quantitative", "axis": null},
    "y": {"field": "y2", "type": "quantitative", "axis": null},
    "angle": {"field": "a", "type": "quantitative", "scale": null},
    "color": {"field": "c", "type": "nominal", "legend": null}
   }},
  {"data": {"name": "labels"}, "transform": [{"filter": "datum.p === 'A' && datum.k === 'mu'"}],
   "mark": {"type": "text", "align": "left", "baseline": "middle", "font": "Liberation Serif", "fontSize": 18},
   "encoding": {
    "x": {"field": "x", "type": "quantitative", "axis": null},
    "y": {"field": "y", "type": "quantitative", "axis": null},
    "text": {"field": "t"},
    "color": {"field": "c", "type": "nominal", "legend": null}
   }},
  {"data": {"name": "labels"}, "transform": [{"filter": "datum.p === 'A' && datum.k === 'name'"}],
   "mark": {"type": "text", "align": "center", "baseline": "middle", "font": "Liberation Sans", "fontSize": 17},
   "encoding": {
    "x": {"field": "x", "type": "quantitative", "axis": null},
    "y": {"field": "y", "type": "quantitative", "axis": null},
    "text": {"field": "t"},
    "color": {"field": "c", "type": "nominal", "legend": null}
   }}
 ]
},
{
 "width": 405, "height": 315,
 "title": {"text": "B", "orient": "bottom", "anchor": "start", "frame": "group", "dx": -47, "dy": -17, "fontSize": 17, "fontWeight": "bold", "font": "Liberation Sans", "color": "#111111"},
 "resolve": {"axis": {"x": "independent", "y": "independent"}},
 "layer": [
  {"data": {"name": "curves"}, "transform": [{"filter": "datum.p === 'B'"}],
   "mark": {"type": "line", "clip": true, "strokeWidth": 1, "interpolate": "catmull-rom"},
   "encoding": {
    "x": {"field": "x", "type": "quantitative", "scale": {"domain": [0, 0.04], "nice": false, "zero": false}, "axis": {"values": [0, 0.01, 0.02, 0.03, 0.04], "format": "~g", "title": "gᵢ [mS/cm²]"}},
    "y": {"field": "v", "type": "quantitative", "scale": {"domain": [-80, -20], "nice": false, "zero": false}, "axis": {"values": [-80, -70, -60, -50, -40, -30, -20], "format": "d", "title": "Vₘ [mV]"}},
    "color": {"field": "c", "type": "nominal", "scale": {"domain": ["Kir", "IAs", "CaL"], "range": ["#e5261f", "#55b74a", "#2c3b98"]}, "legend": null},
    "detail": {"field": "m", "type": "nominal"},
    "order": {"field": "v", "type": "quantitative"}
   }},
  {"data": {"name": "arrows"}, "transform": [{"filter": "datum.p === 'B'"}],
   "mark": {"type": "rule", "strokeWidth": 1},
   "encoding": {
    "x": {"field": "x", "type": "quantitative", "scale": {"domain": [0, 0.04], "nice": false, "zero": false}, "axis": {"orient": "top", "values": [0, 0.01, 0.02, 0.03, 0.04], "labels": false, "title": null}},
    "y": {"field": "y", "type": "quantitative", "scale": {"domain": [-80, -20], "nice": false, "zero": false}, "axis": {"orient": "right", "values": [-80, -70, -60, -50, -40, -30, -20], "labels": false, "title": null}},
    "x2": {"field": "x2"}, "y2": {"field": "y2"},
    "color": {"field": "c", "type": "nominal", "legend": null}
   }},
  {"data": {"name": "arrows"}, "transform": [{"filter": "datum.p === 'B'"}],
   "mark": {"type": "point", "shape": "M0,0L-0.33,1L0.33,1Z", "filled": true, "size": 280, "opacity": 1, "strokeWidth": 0},
   "encoding": {
    "x": {"field": "x2", "type": "quantitative", "axis": null},
    "y": {"field": "y2", "type": "quantitative", "axis": null},
    "angle": {"field": "a", "type": "quantitative", "scale": null},
    "color": {"field": "c", "type": "nominal", "legend": null}
   }},
  {"data": {"name": "labels"}, "transform": [{"filter": "datum.p === 'B' && datum.k === 'mu'"}],
   "mark": {"type": "text", "align": "left", "baseline": "middle", "font": "Liberation Serif", "fontSize": 18},
   "encoding": {
    "x": {"field": "x", "type": "quantitative", "axis": null},
    "y": {"field": "y", "type": "quantitative", "axis": null},
    "text": {"field": "t"},
    "color": {"field": "c", "type": "nominal", "legend": null}
   }},
  {"data": {"name": "labels"}, "transform": [{"filter": "datum.p === 'B' && datum.k === 'name'"}],
   "mark": {"type": "text", "align": "center", "baseline": "middle", "font": "Liberation Sans", "fontSize": 17},
   "encoding": {
    "x": {"field": "x", "type": "quantitative", "axis": null},
    "y": {"field": "y", "type": "quantitative", "axis": null},
    "text": {"field": "t"},
    "color": {"field": "c", "type": "nominal", "legend": null}
   }}
 ]
}
]
}
